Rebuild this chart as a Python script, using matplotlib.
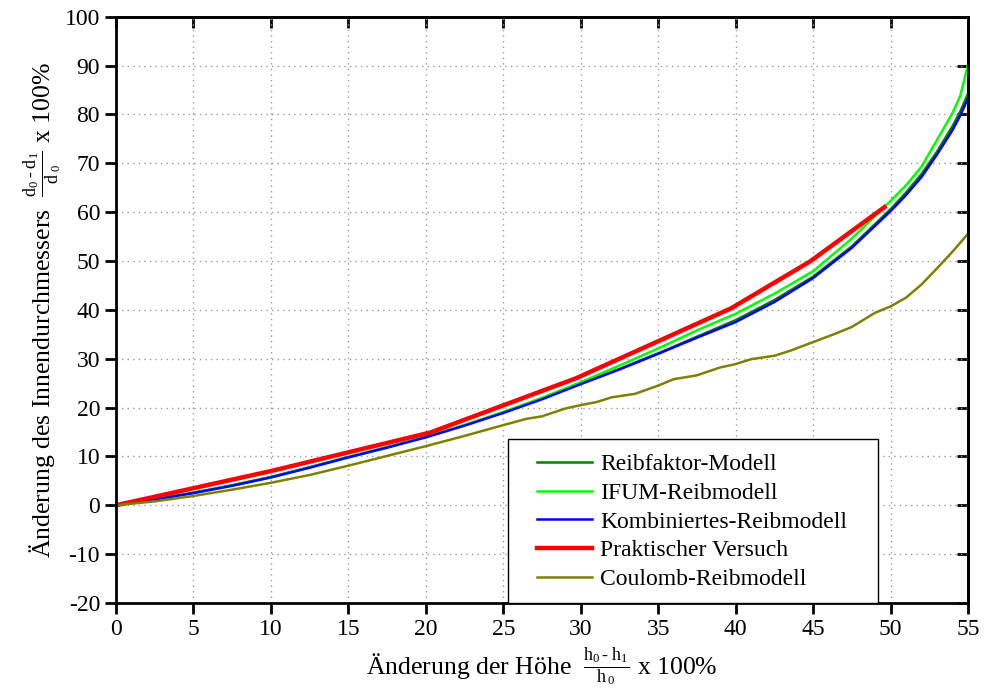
import numpy as np
import matplotlib
matplotlib.use("Agg")
import matplotlib.pyplot as plt
from matplotlib.patches import Rectangle

plt.rcParams['font.family'] = ['Liberation Serif', 'DejaVu Serif']
plt.rcParams['mathtext.fontset'] = 'custom'
plt.rcParams['mathtext.rm'] = 'Liberation Serif'
plt.rcParams['mathtext.it'] = 'Liberation Serif'
plt.rcParams['axes.unicode_minus'] = False

# model curves (x in %)
x_model = [0, 2.5, 5, 7.5, 10, 12.5, 15, 17.5, 20, 22.5, 25, 27.5, 30, 32.5,
           35, 37.5, 40, 42.5, 45, 47.5, 50, 51, 52, 53, 54, 54.5, 55]
reibfaktor = [0, 1.2, 2.6, 4.1, 5.8, 7.8, 9.9, 11.9, 14.0, 16.4, 19.0, 21.8,
              24.9, 27.9, 31.1, 34.5, 37.9, 42.0, 46.8, 53.0, 60.6, 64.0,
              67.8, 72.4, 77.6, 80.6, 84.3]
ifum = [0, 1.2, 2.5, 4.0, 5.7, 7.7, 9.8, 11.8, 14.0, 16.4, 19.1, 22.0, 25.2,
        28.6, 32.1, 35.8, 39.2, 43.3, 47.9, 54.6, 62.3, 65.5, 69.3, 74.8,
        80.3, 83.8, 90.2]
kombiniert = [0, 1.2, 2.5, 4.0, 5.7, 7.7, 9.8, 11.8, 13.9, 16.3, 18.9, 21.7,
              24.8, 27.8, 31.0, 34.3, 37.5, 41.6, 46.5, 52.7, 60.2, 63.5,
              67.2, 71.8, 76.8, 79.8, 83.3]

# experiment
x_versuch = [0, 10, 20.3, 29.7, 39.7, 44.8, 49.6]
versuch = [0, 7.0, 14.9, 26.0, 40.3, 49.9, 61.0]

# coulomb model
x_coulomb = [0, 2.5, 5, 7.5, 10, 12.5, 15, 17.5, 20, 22.5, 25, 26.5, 27.5, 29,
             30, 31, 32, 33.5, 35, 36, 37.5, 39, 40, 41, 42.5, 43.5, 45, 46.5,
             47.5, 49, 50, 51, 52, 53, 54, 55]
coulomb = [0, 0.8, 1.9, 3.2, 4.6, 6.2, 8.1, 10.1, 12.1, 14.2, 16.4, 17.7,
           18.2, 19.8, 20.5, 21.1, 22.1, 22.8, 24.5, 25.8, 26.6, 28.2, 28.9,
           29.9, 30.6, 31.6, 33.4, 35.2, 36.5, 39.4, 40.7, 42.5, 45.2, 48.5,
           51.9, 55.6]

fig = plt.figure(figsize=(9.85, 7.0), dpi=100)
ax = fig.add_axes([0.1178, 0.1386, 0.865, 0.8376])

ax.plot(x_model, reibfaktor, color='#008000', lw=1.8, label='Reibfaktor-Modell')
ax.plot(x_model, ifum, color='#00ff00', lw=1.8, label='IFUM-Reibmodell')
ax.plot(x_model, kombiniert, color='#0000ff', lw=1.8, label='Kombiniertes-Reibmodell')
ax.plot(x_versuch, versuch, color='#ff0000', lw=3.2, label='Praktischer Versuch')
ax.plot(x_coulomb, coulomb, color='#808000', lw=1.8, label='Coulomb-Reibmodell')

xt = np.arange(0, 56, 5)
yt = np.arange(-20, 101, 10)
ax.set_xlim(0, 55)
ax.set_ylim(-20, 100)
ax.set_xticks(xt)
ax.set_yticks(yt)

ax.grid(True, color='#999999', linestyle=(0, (1, 3)), lw=1)
for s in ax.spines.values():
    s.set_linewidth(2)
ax.tick_params(axis='both', direction='out', length=8, width=2, labelsize=17)

# mirrored ticks pointing inwards on top / right
secx = ax.secondary_xaxis('top')
secx.set_xticks(xt)
secx.tick_params(direction='in', length=8, width=2, labeltop=False)
secy = ax.secondary_yaxis('right')
secy.set_yticks(yt)
secy.tick_params(direction='in', length=8, width=2, labelright=False)
for sa in (secx, secy):
    for s in sa.spines.values():
        s.set_linewidth(2)

ax.set_xlabel(r'Änderung der Höhe  $\frac{\mathrm{h_0}\,\text{-}\;\mathrm{h_1}}{\mathrm{h}\,_0}$ x 100%',
              fontsize=18.5, labelpad=4)
ax.set_ylabel(r'Änderung des Innendurchmessers  $\frac{\mathrm{d_0}\,\text{-}\;\mathrm{d_1}}{\mathrm{d}\,_0}$ x 100%',
              fontsize=18.5, labelpad=0)

# legend box
ax.add_patch(Rectangle((0.460, 0.0), 0.434, 0.280, transform=ax.transAxes,
                       facecolor='white', edgecolor='black', lw=1, zorder=5))
leg = ax.legend(loc='center left', bbox_to_anchor=(0.4806, 0.1385), fontsize=17,
                frameon=False, borderpad=0, handlelength=2.3,
                handletextpad=0.35, labelspacing=0.305)
leg.set_zorder(6)

fig.savefig('out.png', dpi=100)
